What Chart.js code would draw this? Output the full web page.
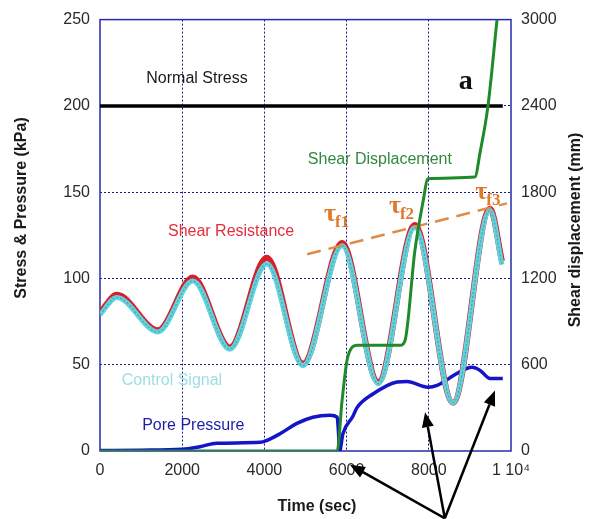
<!DOCTYPE html>
<html>
<head>
<meta charset="utf-8">
<script src="https://cdn.jsdelivr.net/npm/chart.js@4/dist/chart.umd.min.js"></script>
<style>
  html, body { margin: 0; padding: 0; background: #fff; }
  canvas { display: block; }
</style>
</head>
<body>
<canvas id="chart" width="594" height="519"></canvas>
<script>
// readings taken off the original figure (time in sec)
const xTicks = [0, 2000, 4000, 6000, 8000, 10000];
const leftTicks = [0, 50, 100, 150, 200, 250];
const rightTicks = [0, 600, 1200, 1800, 2400, 3000];

const resistT = [0, 410, 1410, 2260, 3160, 4060, 4940, 5890, 6770, 7660, 8590, 9490, 9780];
const resistV = [80, 90.5, 70, 100.5, 60, 112, 50.5, 120.5, 40, 131, 28, 140.5, 110];

const controlT = [0, 410, 1410, 2260, 3160, 4060, 4940, 5890, 6770, 7660, 8590, 9490, 9780];
const controlV = [79, 89, 69, 98.5, 59, 108.5, 49.5, 119, 39, 129.5, 28, 139.5, 108];

const normalT = [0, 9800];
const normalV = [200, 200];

const dispT = [0, 5770, 5890, 6010, 6130, 6250, 7300, 7420, 7660, 7860, 7980, 9120, 9250, 9440, 9660];
const dispV = [0, 0, 352, 630, 720, 735, 735, 767, 1390, 1734, 1893, 1905, 2080, 2400, 3000];

const poreT = [0, 1000, 2000, 2430, 2840, 3900, 4050, 4380, 4790, 5180, 5600, 5770, 5800, 5830, 5910, 6150, 6250, 6640, 7230, 7470, 7980, 8200, 8690, 9050, 9250, 9490, 9800];
const poreV = [0.3, 0.5, 1, 2.5, 4.5, 5, 6, 10, 16, 19.6, 20.7, 19.6, 12, 0, 10, 20, 25, 33, 40, 40.3, 37, 38, 45, 48.5, 46.7, 42, 42];

const trendT = [5040, 9900];
const trendV = [114, 143.5];

const pts = (ts, vs) => ts.map((t, i) => ({ x: t, y: vs[i] }));

const tickFont = { family: "'Liberation Sans', Arial, sans-serif", size: 16 };
const tickColor = "#2a2a2a";
const gridColor = "#1a1a8a";

const overlay = {
  id: "overlay",
  beforeDatasetsDraw(chart) {
    const { ctx, chartArea: a } = chart;
    ctx.save();
    ctx.strokeStyle = "#2a2aa8";
    ctx.lineWidth = 1.5;
    ctx.strokeRect(a.left, a.top, a.right - a.left, a.bottom - a.top);
    ctx.restore();
  },
  afterDraw(chart) {
    const { ctx, scales } = chart;
    const px = t => scales.x.getPixelForValue(t);
    const py = v => scales.y.getPixelForValue(v);
    const sans = "'Liberation Sans', Arial, sans-serif";

    const text = (s, t, v, font, color) => {
      ctx.font = font;
      ctx.fillStyle = color;
      ctx.textAlign = "center";
      ctx.textBaseline = "middle";
      ctx.fillText(s, px(t), py(v));
    };
    ctx.save();
    text("Normal Stress", 2360, 216, "16px " + sans, "#1a1a1a");
    text("Shear Displacement", 6810, 169, "16px " + sans, "#2f8a3f");
    text("Shear Resistance", 3190, 127, "16px " + sans, "#e0303c");
    text("Control Signal", 1750, 41, "16px " + sans, "#9edde6");
    text("Pore Pressure", 2270, 15, "16px " + sans, "#1c1ca8");
    text("a", 8900, 214, "bold 28px 'Liberation Serif', serif", "#111");

    // tau labels
    const tau = (sub, t, v) => {
      ctx.fillStyle = "#e0782a";
      ctx.textAlign = "left";
      ctx.textBaseline = "alphabetic";
      ctx.font = "bold 26px 'Liberation Serif', serif";
      const x = px(t), y = py(v);
      ctx.fillText("τ", x, y);
      const w = ctx.measureText("τ").width;
      ctx.font = "bold 17px 'Liberation Serif', serif";
      ctx.fillText(sub, x + w - 1, y + 6);
    };
    tau("f1", 5450, 133);
    tau("f2", 7030, 138);
    tau("f3", 9130, 146);

    // axis titles
    ctx.fillStyle = "#1a1a1a";
    ctx.font = "bold 16px " + sans;
    ctx.textAlign = "center";
    ctx.textBaseline = "middle";
    ctx.fillText("Time (sec)", 317, 507);
    ctx.save();
    ctx.translate(22, 208);
    ctx.rotate(-Math.PI / 2);
    ctx.fillText("Stress & Pressure (kPa)", 0, 0);
    ctx.restore();
    ctx.save();
    ctx.translate(576, 230);
    ctx.rotate(-Math.PI / 2);
    ctx.fillText("Shear displacement (mm)", 0, 0);
    ctx.restore();

    // arrows
    const arrow = (t0, v0, t1, v1) => {
      const x0 = px(t0), y0 = py(v0), x1 = px(t1), y1 = py(v1);
      const ang = Math.atan2(y1 - y0, x1 - x0);
      const len = 15, hw = 6;
      const bx = x1 - len * Math.cos(ang), by = y1 - len * Math.sin(ang);
      ctx.strokeStyle = "#000";
      ctx.fillStyle = "#000";
      ctx.lineWidth = 2.5;
      ctx.beginPath();
      ctx.moveTo(x0, y0);
      ctx.lineTo(bx, by);
      ctx.stroke();
      ctx.beginPath();
      ctx.moveTo(x1, y1);
      ctx.lineTo(bx + hw * Math.sin(ang), by - hw * Math.cos(ang));
      ctx.lineTo(bx - hw * Math.sin(ang), by + hw * Math.cos(ang));
      ctx.closePath();
      ctx.fill();
    };
    arrow(8390, -39, 6080, -8);
    arrow(8390, -39, 7910, 22.5);
    arrow(8390, -39, 9610, 35);
    ctx.restore();
  }
};

new Chart(document.getElementById("chart"), {
  type: "line",
  data: {
    datasets: [
      { label: "Shear Displacement", data: pts(dispT, dispV), yAxisID: "y2",
        borderColor: "#1e8a2a", borderWidth: 3, order: 0, cubicInterpolationMode: "monotone" },
      { label: "Normal Stress", data: pts(normalT, normalV), yAxisID: "y",
        borderColor: "#000", borderWidth: 3.5, order: 1 },
      { label: "Trend", data: pts(trendT, trendV), yAxisID: "y",
        borderColor: "#e08a45", borderWidth: 2.5, borderDash: [14, 8], order: 2 },
      { label: "Control centre", data: pts(controlT, controlV), yAxisID: "y",
        borderColor: "#7d8f96", borderWidth: 1.2, borderDash: [2, 2], order: 3, cubicInterpolationMode: "monotone" },
      { label: "Control Signal", data: pts(controlT, controlV), yAxisID: "y",
        borderColor: "#5ad6e0", borderWidth: 5, order: 4, cubicInterpolationMode: "monotone" },
      { label: "Shear Resistance", data: pts(resistT, resistV), yAxisID: "y",
        borderColor: "#d8202c", borderWidth: 6, order: 5, cubicInterpolationMode: "monotone" },
      { label: "Pore Pressure", data: pts(poreT, poreV), yAxisID: "y",
        borderColor: "#1414c8", borderWidth: 3.5, order: 6, cubicInterpolationMode: "monotone" }
    ]
  },
  options: {
    responsive: false,
    animation: false,
    layout: { padding: { top: 17 } },
    elements: { point: { radius: 0 }, line: { tension: 0 } },
    plugins: { legend: { display: false }, tooltip: { enabled: false } },
    scales: {
      x: {
        type: "linear", min: 0, max: 10000,
        afterFit: s => { s.height = 68; },
        afterBuildTicks: s => { s.ticks = xTicks.map(v => ({ value: v })); },
        ticks: { font: tickFont, color: tickColor, padding: 10, maxRotation: 0,
          callback: v => (v === 10000 ? "1 10⁴" : String(v)) },
        grid: { drawTicks: false, lineWidth: 1,
          color: c => (c.tick && (c.tick.value === 0 || c.tick.value === 10000) ? "rgba(0,0,0,0)" : gridColor) },
        border: { display: false, dash: [2, 2] }
      },
      y: {
        position: "left", min: 0, max: 250,
        afterFit: s => { s.width = 100; },
        afterBuildTicks: s => { s.ticks = leftTicks.map(v => ({ value: v })); },
        ticks: { font: tickFont, color: tickColor, padding: 10, callback: v => String(v) },
        grid: { drawTicks: false, lineWidth: 1,
          color: c => (c.tick && (c.tick.value === 0 || c.tick.value === 250) ? "rgba(0,0,0,0)" : gridColor) },
        border: { display: false, dash: [2, 2] }
      },
      y2: {
        position: "right", min: 0, max: 3000,
        afterFit: s => { s.width = 83; },
        afterBuildTicks: s => { s.ticks = rightTicks.map(v => ({ value: v })); },
        ticks: { font: tickFont, color: tickColor, padding: 10, callback: v => String(v) },
        grid: { display: false, drawTicks: false },
        border: { display: false }
      }
    }
  },
  plugins: [overlay]
});
</script>
</body>
</html>
